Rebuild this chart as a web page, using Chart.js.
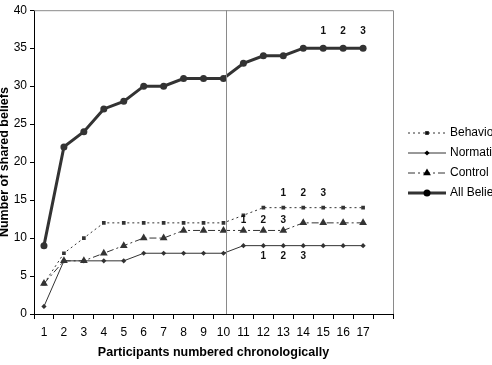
<!DOCTYPE html>
<html>
<head>
<meta charset="utf-8">
<script src="https://cdn.jsdelivr.net/npm/chart.js@4.4.0/dist/chart.umd.min.js"></script>
<style>
  html, body { margin: 0; padding: 0; background: #fff; }
  #wrap { width: 492px; height: 365px; }
</style>
</head>
<body>
<div id="wrap"><canvas id="chart" width="492" height="365"></canvas></div>
<script>
// participants, plus one empty slot at the right end of the axis
const participants = ['1','2','3','4','5','6','7','8','9','10','11','12','13','14','15','16','17',''];

const behavioral = [4, 8, 10, 12, 12, 12, 12, 12, 12, 12, 13, 14, 14, 14, 14, 14, 14];
const normative  = [1, 7, 7, 7, 7, 8, 8, 8, 8, 8, 9, 9, 9, 9, 9, 9, 9];
const control    = [4, 7, 7, 8, 9, 10, 10, 11, 11, 11, 11, 11, 11, 12, 12, 12, 12];
const allBeliefs = [9, 22, 24, 27, 28, 30, 30, 31, 31, 31, 33, 34, 34, 35, 35, 35, 35];

const yTicks = [0, 5, 10, 15, 20, 25, 30, 35, 40];

// "1 2 3" markers: category indexes and the y value they sit at
const noteText = ['1', '2', '3'];
const noteCats = [[14, 15, 16], [12, 13, 14], [10, 11, 12], [11, 12, 13]];
const noteVals = [37.2, 15.9, 12.4, 7.6];

// vertical separator sits just right of participant 10
const splitAt = 9.13;

const ink = '#333';
const font = 'Arial, "Liberation Sans", sans-serif';

const extras = {
    id: 'extras',
    afterDatasetsDraw(chart) {
        const ctx = chart.ctx;
        const a = chart.chartArea;
        const x = chart.scales.x, y = chart.scales.y;
        ctx.save();
        // top and right frame + separator
        ctx.strokeStyle = '#8a8a8a';
        ctx.lineWidth = 1;
        ctx.beginPath();
        ctx.moveTo(a.left, a.top + 0.5);
        ctx.lineTo(a.right + 0.5, a.top + 0.5);
        ctx.lineTo(a.right + 0.5, a.bottom);
        const sx = Math.round(x.getPixelForValue(splitAt)) + 0.5;
        ctx.moveTo(sx, a.top);
        ctx.lineTo(sx, a.bottom);
        ctx.stroke();

        // 1 2 3 labels
        ctx.fillStyle = '#111';
        ctx.font = 'bold 10px ' + font;
        ctx.textAlign = 'center';
        ctx.textBaseline = 'middle';
        noteCats.forEach((cats, i) => {
            cats.forEach((c, j) => {
                ctx.fillText(noteText[j], x.getPixelForValue(c), y.getPixelForValue(noteVals[i]));
            });
        });

        // legend with line samples
        chart.data.datasets.forEach((ds, i) => {
            const ly = 133 + i * 20;
            ctx.strokeStyle = ds.borderColor;
            ctx.lineWidth = ds.borderWidth;
            ctx.setLineDash(ds.borderDash || []);
            ctx.beginPath();
            ctx.moveTo(408, ly);
            ctx.lineTo(446, ly);
            ctx.stroke();
            ctx.setLineDash([]);
            Chart.helpers.drawPoint(ctx, {
                pointStyle: ds.pointStyle,
                radius: ds.pointRadius,
                borderWidth: 0
            }, 427, ly);
            ctx.fillStyle = '#000';
            ctx.font = '12px ' + font;
            ctx.textAlign = 'left';
            ctx.fillText(ds.label, 450, ly);
        });
        ctx.restore();
    }
};

new Chart(document.getElementById('chart'), {
    type: 'line',
    data: {
        labels: participants,
        datasets: [
            {
                label: 'Behavioral', data: behavioral,
                borderColor: ink, backgroundColor: ink, borderWidth: 1, borderDash: [2, 3],
                pointStyle: 'rect', pointRadius: 2.6, pointBorderWidth: 0
            },
            {
                label: 'Normative', data: normative,
                borderColor: ink, backgroundColor: ink, borderWidth: 1,
                pointStyle: 'rectRot', pointRadius: 2.6, pointBorderWidth: 0
            },
            {
                label: 'Control', data: control,
                borderColor: ink, backgroundColor: ink, borderWidth: 1, borderDash: [7, 3, 2, 3],
                pointStyle: 'triangle', pointRadius: 4.5, pointBorderWidth: 0
            },
            {
                label: 'All Beliefs', data: allBeliefs,
                borderColor: ink, backgroundColor: ink, borderWidth: 3,
                pointStyle: 'circle', pointRadius: 3.5, pointBorderWidth: 0
            }
        ]
    },
    options: {
        responsive: false,
        animation: false,
        layout: { padding: { top: 10, right: 99, left: 0, bottom: 0 } },
        elements: { line: { tension: 0 } },
        plugins: { legend: { display: false }, tooltip: { enabled: false } },
        scales: {
            x: {
                offset: true,
                grid: { drawOnChartArea: false, tickLength: 5, color: '#000', offset: true },
                border: { color: '#000', width: 1 },
                ticks: { color: '#000', font: { family: font, size: 12 }, padding: 6, maxRotation: 0, autoSkip: false },
                title: {
                    display: true, text: 'Participants numbered chronologically', color: '#000',
                    font: { family: font, size: 12.5, weight: 'bold' }, padding: { top: 0, bottom: 4.5 }
                },
                afterFit(s) { s.height = 51; }
            },
            y: {
                min: 0, max: 40,
                afterBuildTicks(s) { s.ticks = yTicks.map(v => ({ value: v })); },
                grid: { drawOnChartArea: false, tickLength: 4, color: '#000' },
                border: { color: '#000', width: 1 },
                ticks: { color: '#000', font: { family: font, size: 12 }, padding: 3 },
                title: {
                    display: true, text: 'Number of shared beliefs', color: '#000',
                    font: { family: font, size: 12.5, weight: 'bold' }, padding: { top: -3, bottom: 0 }
                },
                afterFit(s) { s.width = 34; }
            }
        }
    },
    plugins: [extras]
});
</script>
</body>
</html>
